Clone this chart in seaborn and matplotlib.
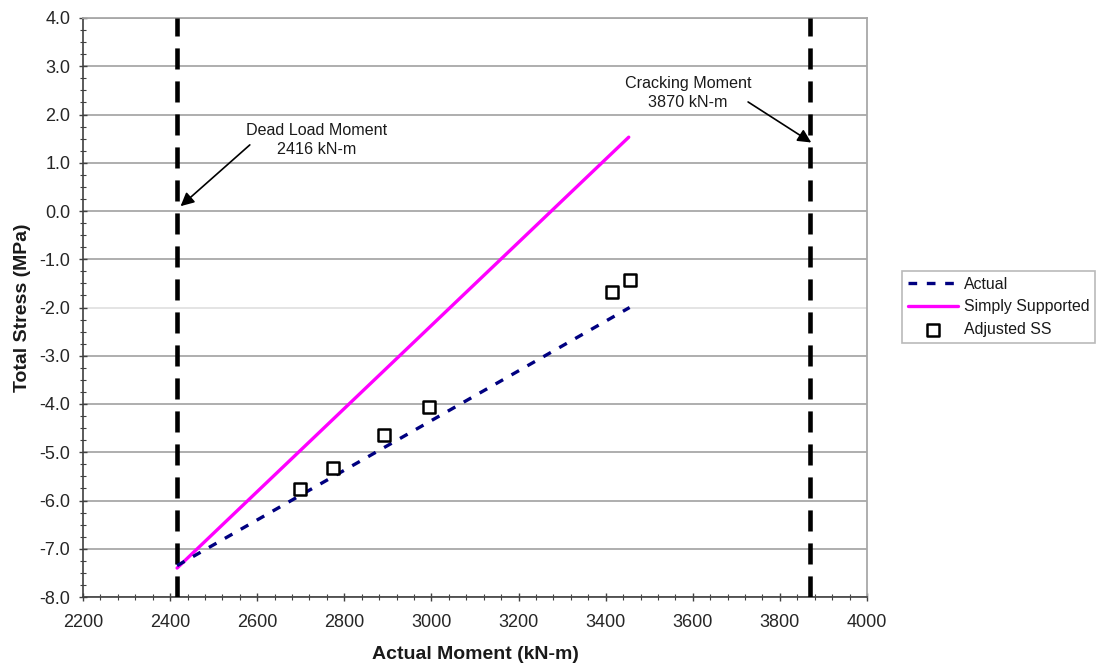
import matplotlib
matplotlib.use("Agg")
import matplotlib.pyplot as plt
import seaborn as sns
import pandas as pd
import numpy as np
from matplotlib.ticker import MultipleLocator, FormatStrFormatter

# ---- data ----
actual_moment = [2416, 3455]
actual_stress = [-7.35, -2.0]

ss_moment = [2416, 3453]
ss_stress = [-7.4, 1.53]

adj_moment = [2698, 2775, 2892, 2994, 3414, 3456]
adj_stress = [-5.77, -5.33, -4.65, -4.07, -1.68, -1.43]

dead_load_moment = 2416
cracking_moment = 3870

x_ticks = [2200, 2400, 2600, 2800, 3000, 3200, 3400, 3600, 3800, 4000]
y_ticks = [-8.0, -7.0, -6.0, -5.0, -4.0, -3.0, -2.0, -1.0, 0.0, 1.0, 2.0, 3.0, 4.0]

sns.set_theme(style="white")
plt.rcParams['font.family'] = ['Liberation Sans', 'DejaVu Sans']

fig = plt.figure(figsize=(10.97, 6.70), dpi=100)
ax = fig.add_axes([83/1097, 1 - 597/670, (867-83)/1097, (597-18)/670])

df_act = pd.DataFrame({"Moment": actual_moment, "Stress": actual_stress})
df_ss = pd.DataFrame({"Moment": ss_moment, "Stress": ss_stress})
df_adj = pd.DataFrame({"Moment": adj_moment, "Stress": adj_stress})

# vertical reference lines
for xv in (dead_load_moment, cracking_moment):
    ax.axvline(xv, color="black", lw=3.3, dashes=(4.6, 2.6), solid_capstyle="butt",
               dash_capstyle="butt", zorder=3)

sns.lineplot(data=df_ss, x="Moment", y="Stress", ax=ax, color="#ff00ff", lw=2.4,
             label="Simply Supported", zorder=4)
sns.lineplot(data=df_act, x="Moment", y="Stress", ax=ax, color="#000080", lw=2.4,
             label="Actual", zorder=4)
ax.lines[-1].set_dashes((2.6, 2.9))
sns.scatterplot(data=df_adj, x="Moment", y="Stress", ax=ax, marker="s", s=80,
                facecolor="white", edgecolor="black", linewidth=1.8,
                label="Adjusted SS", zorder=5)

ax.set_xlim(2200, 4000)
ax.set_ylim(-8, 4)
ax.set_xticks(x_ticks)
ax.set_yticks(y_ticks)
ax.yaxis.set_major_formatter(FormatStrFormatter("%.1f"))
ax.xaxis.set_minor_locator(MultipleLocator(40))
ax.yaxis.set_minor_locator(MultipleLocator(0.25))

ax.tick_params(axis="both", which="major", direction="inout", length=6, width=1,
               color="#404040", labelsize=13, labelcolor="#262626")
ax.tick_params(axis="both", which="minor", direction="inout", length=4, width=0.8,
               color="#404040")
ax.tick_params(axis="x", which="both", top=False, pad=9)
ax.tick_params(axis="y", which="both", right=False, pad=6)
ax.tick_params(axis="x", which="both", bottom=True)
ax.tick_params(axis="y", which="both", left=True)

ax.yaxis.grid(True, color="#a8a8a8", lw=1.3)
ax.xaxis.grid(False)
ax.set_axisbelow(True)
fig.canvas.draw()
for val, gl in zip(ax.get_yticks(), ax.yaxis.get_gridlines()):
    if abs(val + 2.0) < 1e-6:
        gl.set_color("#e2e2e2")

for side in ("left", "bottom"):
    ax.spines[side].set_color("#404040")
    ax.spines[side].set_linewidth(1.2)
for side in ("top", "right"):
    ax.spines[side].set_color("#a8a8a8")
    ax.spines[side].set_linewidth(1.3)

ax.set_xlabel("Actual Moment (kN-m)", fontsize=14, fontweight="bold", labelpad=11,
              color="#1a1a1a")
ax.set_ylabel("Total Stress (MPa)", fontsize=14, fontweight="bold", labelpad=6,
              color="#1a1a1a")

# annotations
ax.text(2737, 1.47, "Dead Load Moment\n2416 kN-m", ha="center", va="center",
        fontsize=11.6, color="#1a1a1a", linespacing=1.3)
ax.annotate("", xy=(2424, 0.1), xytext=(2583, 1.37),
            arrowprops=dict(arrowstyle="-|>", color="black", lw=1.2,
                            mutation_scale=20, shrinkA=0, shrinkB=0))
ax.text(3589, 2.45, "Cracking Moment\n3870 kN-m", ha="center", va="center",
        fontsize=11.6, color="#1a1a1a", linespacing=1.3)
ax.annotate("", xy=(3872, 1.42), xytext=(3727, 2.26),
            arrowprops=dict(arrowstyle="-|>", color="black", lw=1.2,
                            mutation_scale=20, shrinkA=0, shrinkB=0))

# legend in order Actual, Simply Supported, Adjusted SS
handles, labels = ax.get_legend_handles_labels()
order = [labels.index("Actual"), labels.index("Simply Supported"), labels.index("Adjusted SS")]
if ax.get_legend():
    ax.get_legend().remove()
leg = fig.legend([handles[i] for i in order], [labels[i] for i in order],
                 loc="upper left", bbox_to_anchor=(902/1097, 1 - 271/670),
                 borderaxespad=0, fontsize=11.4, frameon=True, fancybox=False,
                 shadow=False, handlelength=3.2, handletextpad=0.35,
                 borderpad=0.35, labelspacing=0.5, numpoints=1)
leg.get_frame().set_edgecolor("#a8a8a8")
leg.get_frame().set_linewidth(1.2)
for t in leg.get_texts():
    t.set_color("#1a1a1a")

fig.savefig("out.png", dpi=100, facecolor="white")
